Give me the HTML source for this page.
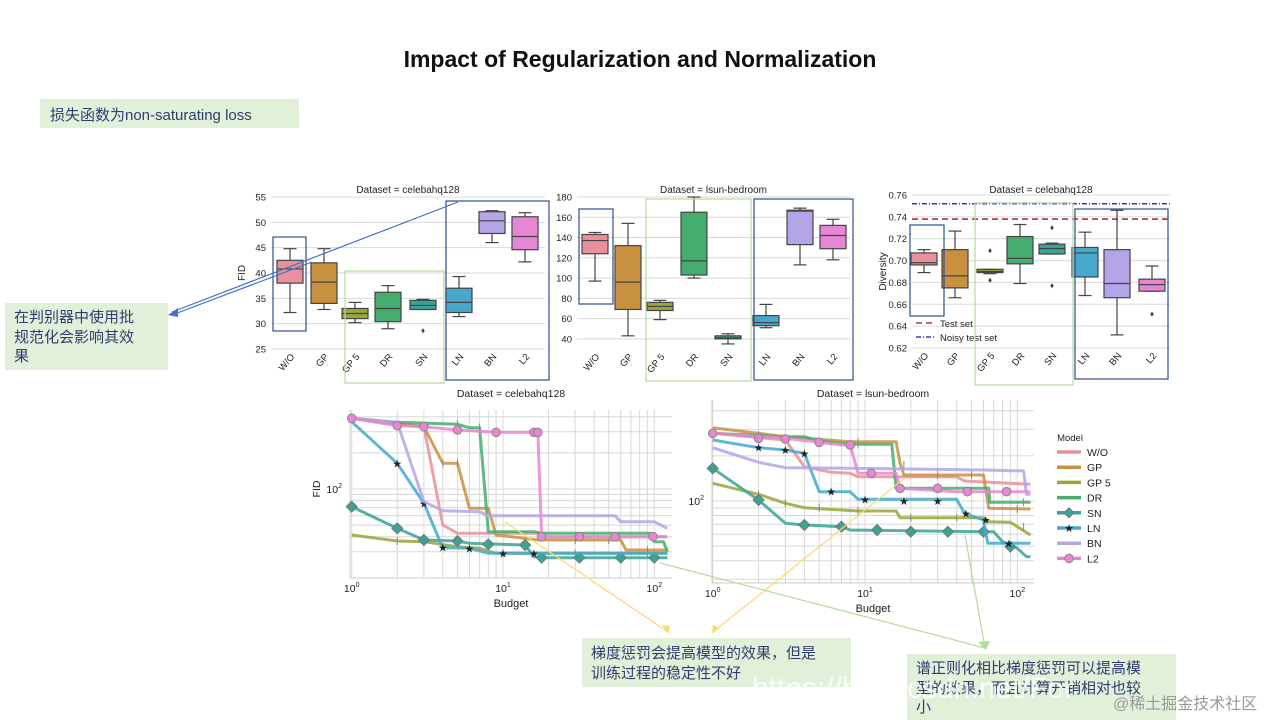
<!DOCTYPE html>
<html><head><meta charset="utf-8">
<style>
body{margin:0;background:#fff;}
svg{display:block;font-family:"Liberation Sans","DejaVu Sans","Noto Sans CJK SC",sans-serif;}
</style></head>
<body>
<svg id="s" width="1280" height="720" xmlns="http://www.w3.org/2000/svg">
<text x="640" y="67" text-anchor="middle" font-size="23" font-weight="bold" fill="#111">Impact of Regularization and Normalization</text>
<rect x="40" y="99" width="259" height="29" fill="#e2efd9"/>
<text x="50" y="120" font-size="15" fill="#2f3d70" font-family="'Liberation Sans','Noto Sans CJK SC',sans-serif">损失函数为non-saturating loss</text>
<rect x="5" y="303" width="163" height="67" fill="#e2efd9"/>
<text font-size="15" fill="#2f3d70" font-family="'Liberation Sans','Noto Sans CJK SC',sans-serif"><tspan x="14" y="322">在判别器中使用批</tspan><tspan x="14" y="342">规范化会影响其效</tspan><tspan x="14" y="361">果</tspan></text>
<rect x="582" y="638" width="269" height="49" fill="#e2efd9"/>
<text font-size="15" fill="#2f3d70" font-family="'Liberation Sans','Noto Sans CJK SC',sans-serif"><tspan x="591" y="658">梯度惩罚会提高模型的效果，但是</tspan><tspan x="591" y="678">训练过程的稳定性不好</tspan></text>
<rect x="907" y="654" width="269" height="66" fill="#e2efd9"/>
<text font-size="15" fill="#2f3d70" font-family="'Liberation Sans','Noto Sans CJK SC',sans-serif"><tspan x="916" y="673">谱正则化相比梯度惩罚可以提高模</tspan><tspan x="916" y="693">型的效果，而且计算开销相对也较</tspan><tspan x="916" y="712">小</tspan></text>
<g id="g"></g>
<text x="752" y="698" font-size="30" fill="#fff" fill-opacity="0.85">https://blog.csdn.net/For</text>
<text x="1113" y="709" font-size="16" fill="#999" font-family="'Liberation Sans','Noto Sans CJK SC',sans-serif">@稀土掘金技术社区</text>
</svg>
<script>
var g=document.getElementById('g');var h='';
function L(x1,y1,x2,y2,c,w,extra){h+='<line x1="'+x1+'" y1="'+y1+'" x2="'+x2+'" y2="'+y2+'" stroke="'+c+'" stroke-width="'+(w||1)+'" '+(extra||'')+'/>';}
function T(x,y,t,sz,anc,extra){h+='<text x="'+x+'" y="'+y+'" font-size="'+sz+'" text-anchor="'+(anc||'start')+'" fill="#222" '+(extra||'')+'>'+t+'</text>';}
var cols=['#e8909b','#c8913f','#9ba53a','#45ad6e','#3aa397','#47a8cc','#b4a4e8','#e786d4'];
var cats=['W/O','GP','GP 5','DR','SN','LN','BN','L2'];
function boxpanel(x0,x1,ytop,ybot,vtop,vbot,ticks,fmt,title,cx,data,ylab){
 var f=function(v){return ytop+(vtop-v)/(vtop-vbot)*(ybot-ytop);};
 ticks.forEach(function(t){var y=f(t);L(x0,y,x1,y,'#d8d8d8',1);T(x0-5,y+3.5,fmt(t),9.5,'end');});
 T((x0+x1)/2,193,title,10,'middle');
 T(0,0,ylab,10,'middle','transform="translate('+(x0-26)+','+((ytop+ybot)/2)+') rotate(-90)"');
 data.forEach(function(d,i){var c=cx[i],w=13;
  L(c,f(d[3]),c,f(d[0]),'#444',1.2);L(c,f(d[2]),c,f(d[4]),'#444',1.2);
  L(c-w/2,f(d[3]),c+w/2,f(d[3]),'#444',1.2);L(c-w/2,f(d[4]),c+w/2,f(d[4]),'#444',1.2);
  h+='<rect x="'+(c-w)+'" y="'+f(d[2])+'" width="'+(2*w)+'" height="'+(f(d[0])-f(d[2]))+'" fill="'+cols[i]+'" stroke="#444" stroke-width="1.2"/>';
  L(c-w,f(d[1]),c+w,f(d[1]),'#444',1.2);
  (d[5]||[]).forEach(function(o){h+='<path d="M'+c+' '+(f(o)-2.5)+'L'+(c+1.8)+' '+f(o)+'L'+c+' '+(f(o)+2.5)+'L'+(c-1.8)+' '+f(o)+'Z" fill="#444"/>';});
  T(0,0,cats[i],9.5,'end','transform="translate('+(c+5)+','+(ybot+8)+') rotate(-50)"');
 });
 return f;
}
boxpanel(271,545,197,349,55,25,[55,50,45,40,35,30,25],function(t){return t;},'Dataset = celebahq128',[290,324,355,388,423,459,492,525],
[[38,40.8,42.5,32.2,44.8],[34,38.2,42,32.8,44.8],[31,32,33,30.2,34.2],[30.4,33,36.2,29,37.5],[32.8,33.6,34.6,32.8,34.8,[28.6]],[32.2,34.2,37,31.4,39.3],[47.8,50.3,52.1,46,52.3],[44.6,47.2,51.1,42.2,51.9]],'FID');
boxpanel(577,850,197,349,180,30,[180,160,140,120,100,80,60,40],function(t){return t;},'Dataset = lsun-bedroom',[595,628,660,694,728,766,800,833],
[[124,137,143,97,145],[69,96,132,43,154],[68,72,76,59,78],[103,117,165,100,180],[40,41,43,35,45],[53,56,63,51,74],[133,166,167,113,169],[129,142,152,118,158]],'');
var f3=boxpanel(912,1170,195,348,0.76,0.62,[0.76,0.74,0.72,0.70,0.68,0.66,0.64,0.62],function(t){return t.toFixed(2);},'Dataset = celebahq128',[924,955,990,1020,1052,1085,1117,1152],
[[.696,.698,.707,.689,.710],[.675,.686,.710,.666,.727],[.689,.690,.692,.688,.692,[.709,.682]],[.697,.702,.722,.679,.733],[.706,.711,.715,.706,.716,[.730,.677]],[.685,.707,.712,.668,.726],[.666,.679,.710,.632,.746],[.672,.678,.683,.672,.695,[.651]]],'Diversity');
L(912,f3(0.738),1170,f3(0.738),'#a01010',1.3,'stroke-dasharray="6,4"');
L(912,f3(0.752),1170,f3(0.752),'#1010c0',1.3,'stroke-dasharray="5,2,1,2"');
L(916,323,934,323,'#a01010',1.3,'stroke-dasharray="6,4"');T(940,327,'Test set',9.5);
L(916,337,934,337,'#1010c0',1.3,'stroke-dasharray="5,2,1,2"');T(940,341,'Noisy test set',9.5);
function R(x1,y1,x2,y2,c){h+='<rect x="'+x1+'" y="'+y1+'" width="'+(x2-x1)+'" height="'+(y2-y1)+'" fill="none" stroke="'+c+'" stroke-width="1.2"/>';}
var B='#2f4d8f',G='#b5d9a0';
R(273,237,306,331,B);R(345,271,444,383,G);R(446,201,549,380,B);
R(579,209,613,304,B);R(646,199,751,381,G);R(754,199,853,380,B);
R(910,225,944,316,B);R(975,203,1073,385,G);R(1075,209,1168,379,B);
function linechart(x0,x1,ytop,ybot,xd1,xd10,y100,D,title,series,ylabel){
 var fx=function(v){return xd1+Math.log10(v)*(xd10-xd1);};
 var fy=function(v){return y100-Math.log10(v/100)*D;};
 for(var k=0;k<3;k++)for(var m=1;m<10;m++){var v=m*Math.pow(10,k);var x=fx(v);if(x>=x0&&x<=x1)L(x,ytop,x,ybot,'#d8d8d8',1);}
 [30,40,50,60,70,80,90,100,200,300,400,500].forEach(function(v){var y=fy(v);if(y>=ytop&&y<=ybot)L(x0,y,x1,y,'#d8d8d8',1);});
 L(x0,ybot,x1,ybot,'#ccc',1);L(x0,ytop,x0,ybot,'#ccc',1);
 T((x0+x1)/2,397,title,10.5,'middle');
 T(fx(1),ybot+14,'10<tspan dy="-5" font-size="7">0</tspan>',10.5,'middle');
 T(fx(10),ybot+14,'10<tspan dy="-5" font-size="7">1</tspan>',10.5,'middle');
 T(fx(100),ybot+14,'10<tspan dy="-5" font-size="7">2</tspan>',10.5,'middle');
 T((x0+x1)/2,ybot+29,'Budget',11,'middle');
 T(x0-8,y100+4,'10<tspan dy="-5" font-size="7">2</tspan>',10.5,'end');
 if(ylabel)T(0,0,ylabel,10.5,'middle','transform="translate('+(x0-30)+','+y100+') rotate(-90)"');
 series.forEach(function(s,i){
  var p=s.pts,d='';
  for(var j=0;j<p.length;j+=2){var x=fx(p[j]),y=p[j+1];d+=(j?'L':'M')+x.toFixed(1)+' '+y.toFixed(1);}
  h+='<path d="'+d+'" fill="none" stroke="'+cols[i]+'" stroke-width="3" stroke-opacity="0.85" stroke-linejoin="round"/>';
  (s.m||[]).forEach(function(mm){var x=fx(mm[0]),y=mm[1];
   if(i==7)h+='<circle cx="'+x+'" cy="'+y+'" r="4.3" fill="'+cols[7]+'" stroke="#888" stroke-width="1"/>';
   else if(i==4)h+='<path d="M'+x+' '+(y-5.5)+'L'+(x+5.5)+' '+y+'L'+x+' '+(y+5.5)+'L'+(x-5.5)+' '+y+'Z" fill="'+cols[4]+'" stroke="#777" stroke-width="1"/>';
   else if(i==5)T(x,y+4,'★',11,'middle','fill="#8a9aa8"');
   else L(x,y-4,x,y+4,'#888',1);
  });
 });
}
function Z(arr,oy){return arr.map(function(v,k){return k%2?oy+v/3:v;});}
function M(arr,oy){var r=[];for(var k=0;k<arr.length;k+=2)r.push([arr[k],oy+arr[k+1]/3]);return r;}
var o1=385;
linechart(350,672,410,578,351.7,503,489,120,'Dataset = celebahq128',[
 {pts:Z([1,100,3,125,4,420,5,445,18,445,19,455,122,455],o1)},
 {pts:Z([1,100,3,125,4,235,5,235,6,370,8,370,9,450,17,465,60,465,65,495,122,495],o1),m:M([4,235,5,235,30,465,50,465,90,495],o1)},
 {pts:Z([1,450,2,468,3,470,5,485,7,490,9,505,122,505],o1),m:M([2,468,3,470,10,505,30,505,90,505],o1)},
 {pts:Z([1,100,2,112,5,118,6,128,7,128,8,440,16,440,18,445,95,445,100,470,115,470,122,500],o1),m:M([5,118,7,128],o1)},
 {pts:Z([1,365,2,430,3,465,5,468,6,475,14,480,16,515,18,518,122,518],o1),m:M([1,365,2,430,3,465,5,468,8,478,14,480,18,518,32,518,60,518,100,518],o1)},
 {pts:Z([1,110,2,235,3,355,4,488,6,490,8,505,122,505],o1),m:M([2,235,3,355,4,488,6,490,10,505,16,505],o1)},
 {pts:Z([1,100,2,112,3,350,4,377,7,380,8,392,55,392,60,410,100,410,110,420,122,430],o1)},
 {pts:Z([1,100,2,122,3,125,5,135,9,142,17,142,18,455,122,455],o1),m:M([1,100,2,122,3,125,5,135,9,142,16,142,17,142,18,455,32,455,55,455,98,455],o1)}
],'FID');
linechart(712,1034,400,583,712.7,865,501,150,'Dataset = lsun-bedroom',[
 {pts:Z([1,145,3,165,4,245,6,262,8,265,9,275,40,275,45,288,122,298],o1)},
 {pts:Z([1,128,3,155,8,170,16,170,17,235,18,270,60,270,65,370,122,372],o1),m:M([2,150,9,172,30,270,50,270,100,372],o1)},
 {pts:Z([1,295,2,328,3,355,4,368,9,378,16,378,17,398,60,398,65,410,90,412,100,425,122,450],o1),m:M([2,328,3,355,5,368,9,378,20,398,40,398,110,425],o1)},
 {pts:Z([1,145,3,155,4,155,5,168,8,178,15,178,16,310,65,310,66,352,122,352],o1),m:M([9,178,18,240,110,352],o1)},
 {pts:Z([1,250,2,345,3,415,4,420,7,425,8,435,60,440,70,440,80,470,100,490,115,515,122,515],o1),m:M([1,250,2,345,4,420,7,425,12,435,20,440,35,440,60,440,90,485],o1)},
 {pts:Z([1,165,2,188,3,195,4,205,5,320,8,320,9,343,40,343,45,385,60,405,64,475,122,475],o1),m:M([2,188,3,195,4,205,6,320,10,343,18,348,30,348,46,385,62,405,88,475],o1)},
 {pts:Z([1,188,2,232,3,248,8,250,60,255,110,258,115,328,122,328],o1)},
 {pts:Z([1,145,3,160,5,172,7,180,8,180,9,265,16,265,17,310,40,320,122,320],o1),m:M([1,145,2,160,3,162,5,172,8,180,11,265,17,310,30,310,47,320,85,320],o1)}
],'');
T(1070,441,'Model',9.5,'middle');
cats.forEach(function(c,i){var y=452+i*15.2;L(1057,y,1081,y,cols[i],3.5);
 if(i==7)h+='<circle cx="1069" cy="'+y+'" r="4.3" fill="'+cols[7]+'" stroke="#888"/>';
 if(i==4)h+='<path d="M1069 '+(y-5)+'L1074 '+y+'L1069 '+(y+5)+'L1064 '+y+'Z" fill="'+cols[4]+'" stroke="#777"/>';
 if(i==5)T(1069,y+4,'★',11,'middle','fill="#8a9aa8"');
 T(1087,y+4,c,10.5);});
L(458,202,172,312,'#4472c4',1.2);L(312,262,172,315,'#4472c4',1.2);
h+='<path d="M168 315 L178 308 L178 317 Z" fill="#4472c4"/>';
L(505,522,668,632,'#ffd966',1.2);L(905,478,713,632,'#ffd966',1.2);
h+='<path d="M668 634 L662 625 L670 626 Z" fill="#ffd966"/><path d="M712 634 L713 625 L719 628 Z" fill="#ffd966"/>';
L(660,563,985,648,'#b5d9a0',1.2);L(965,535,985,648,'#b5d9a0',1.2);
h+='<path d="M986 650 L978 642 L990 641 Z" fill="#b5d9a0"/>';
g.innerHTML=h;
</script>
</body></html>
